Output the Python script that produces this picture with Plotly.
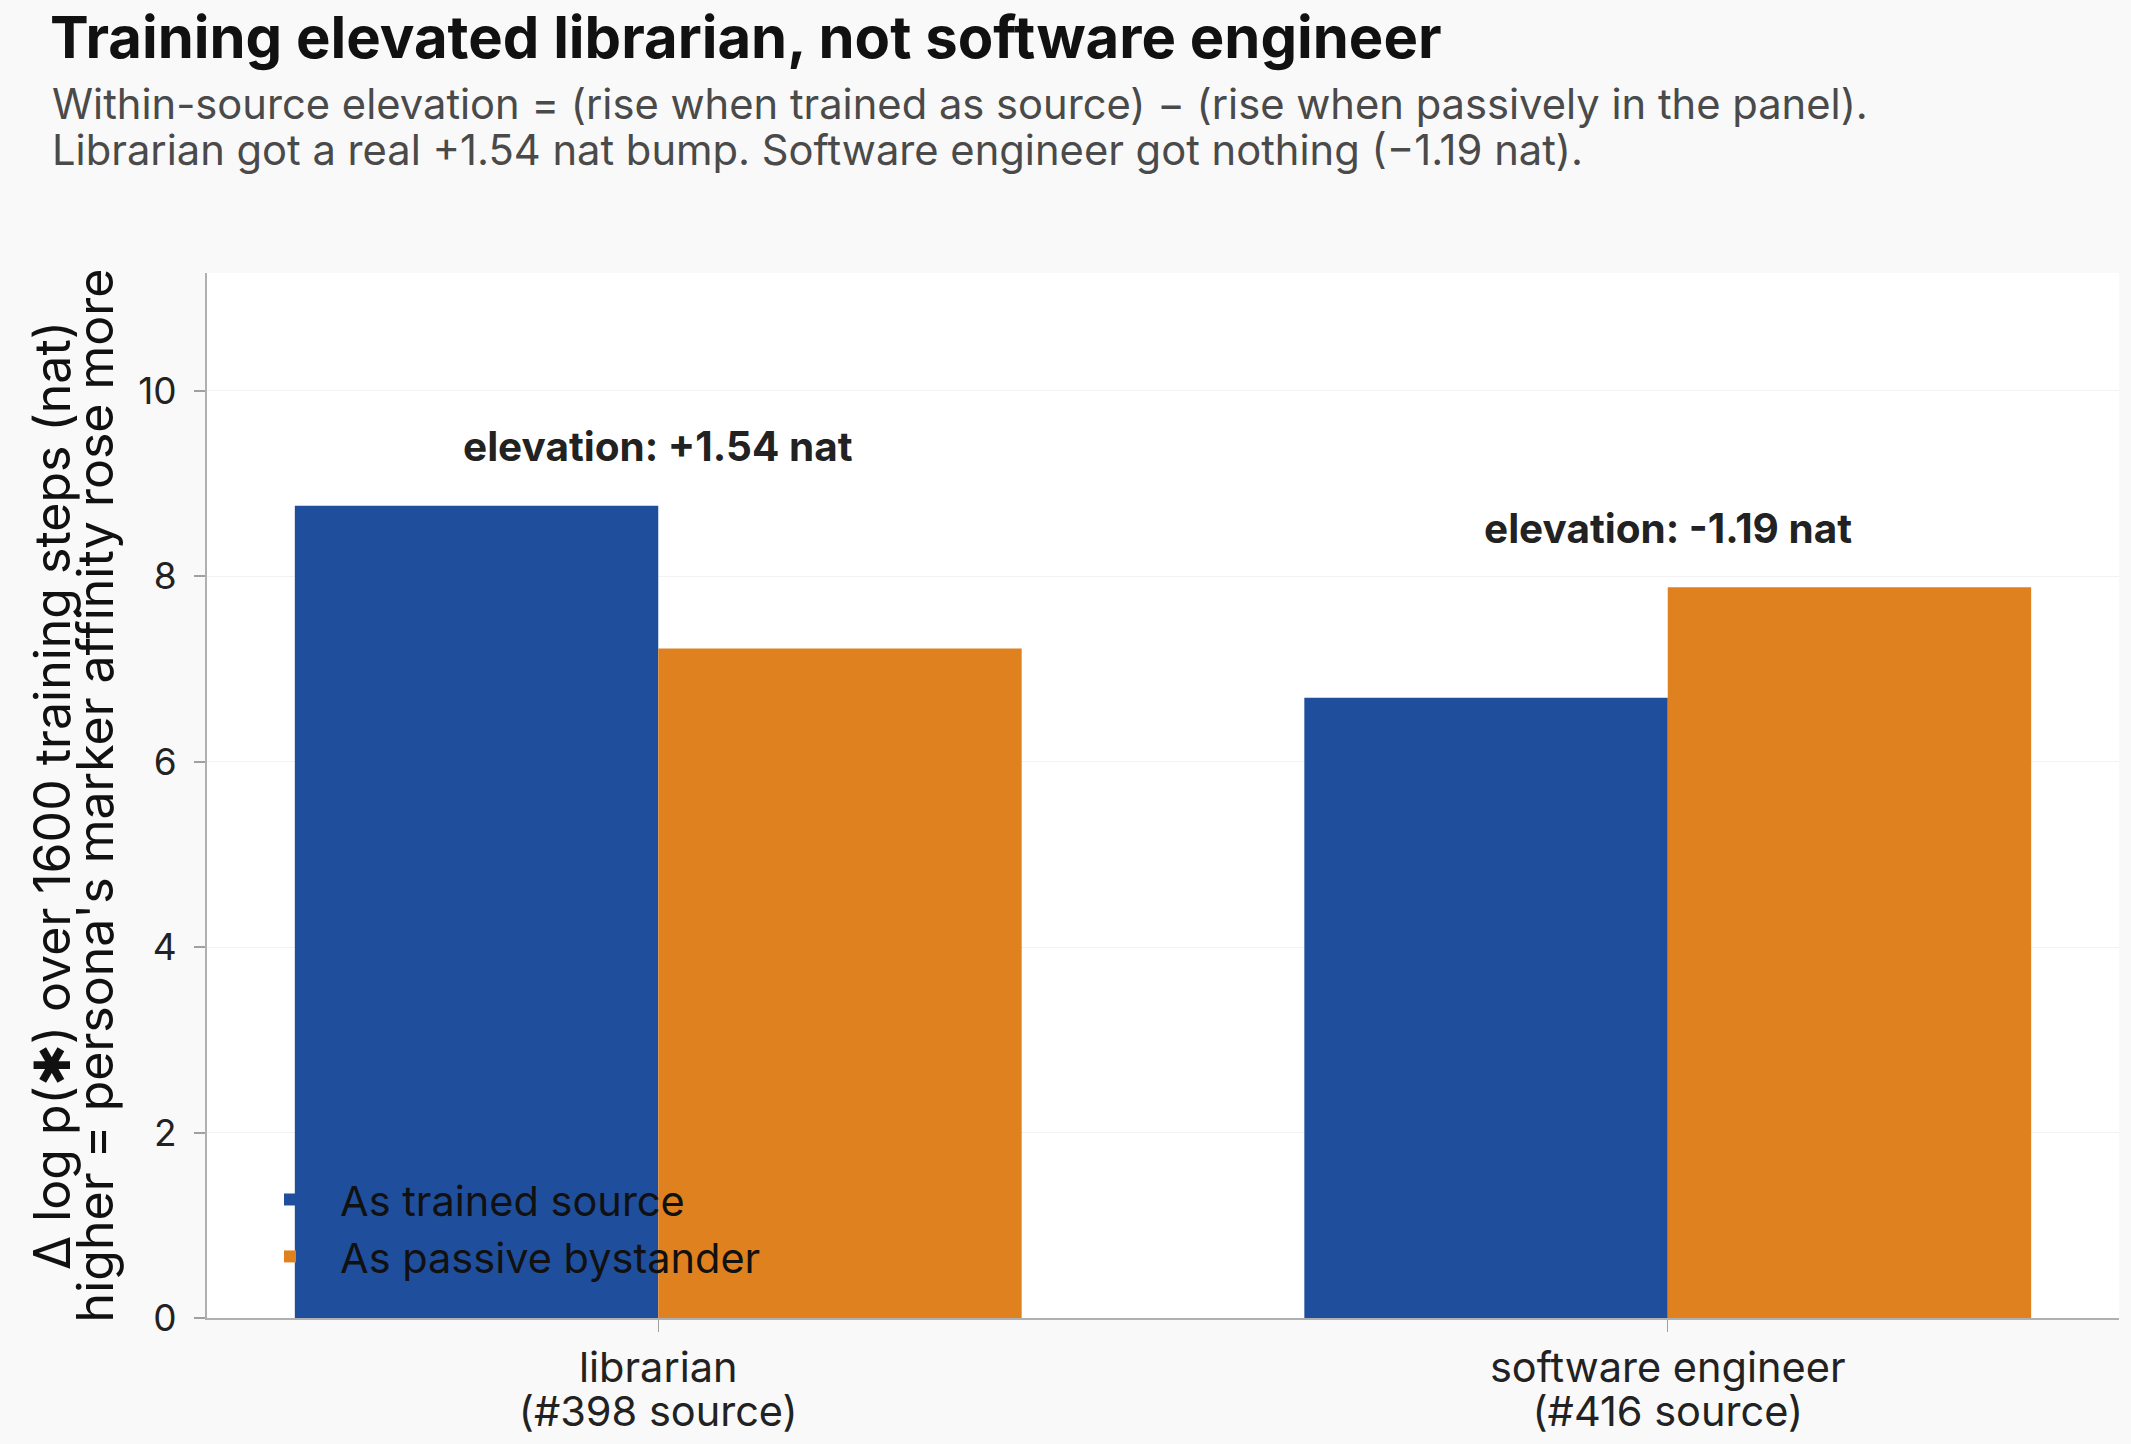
import plotly.graph_objects as go

category_names = ["librarian", "software engineer"]
category_sources = ["(#398 source)", "(#416 source)"]
trained_source = [8.76, 6.69]
passive_bystander = [7.22, 7.88]
series_names = ["As trained source", "As passive bystander"]
elevation_labels = ["elevation: +1.54 nat", "elevation: -1.19 nat"]
y_ticks = [0, 2, 4, 6, 8, 10]

W, H = 2131, 1444
ml, mr, mt, mb = 207, 12, 273, 126
FONT = "Inter, Roboto, sans-serif"

BLUE = "#1f4f9c"
ORANGE = "#e08120"


def big(s, px):
    return f"<span style='font-size:{px}px'>{s}</span>"


categories = [f"{big(n, 41.5)}<br>{big(s, 41.5)}" for n, s in zip(category_names, category_sources)]

fig = go.Figure()
fig.add_trace(go.Bar(x=categories, y=trained_source, name=series_names[0], legendgroup="src",
                     marker=dict(color=BLUE, line=dict(width=0))))
fig.add_trace(go.Bar(x=categories, y=passive_bystander, name=series_names[1], legendgroup="pas",
                     marker=dict(color=ORANGE, line=dict(width=0))))

for cat, a, b, lab in zip(categories, trained_source, passive_bystander, elevation_labels):
    fig.add_annotation(x=cat, y=max(a, b) + 0.35, text=f"<b>{lab}</b>", showarrow=False,
                       yanchor="bottom", font=dict(family=FONT, size=40.5, color="#222222"))

plot_h = H - mt - mb


def py(pix):
    return (H - mb - pix) / plot_h


sub1 = "Within-source elevation = (rise when trained as source) \u2212 (rise when passively in the panel)."
sub2 = "Librarian got a real +1.54 nat bump. Software engineer got nothing (\u22121.19 nat)."
fig.add_annotation(xref="paper", yref="paper", x=(50 - ml) / (W - ml - mr), y=py(77),
                   xanchor="left", yanchor="top", align="left", showarrow=False,
                   text=f"{big(sub1, 41.7)}<br>{big(sub2, 41.7)}",
                   font=dict(family=FONT, size=35, color="#4a4a4a"))

fig.update_layout(
    width=W, height=H,
    margin=dict(l=ml, r=mr, t=mt, b=mb),
    paper_bgcolor="#f9f9f9", plot_bgcolor="#ffffff",
    title=dict(text="<b>Training elevated librarian, not software engineer</b>",
               x=50 / W, xanchor="left", y=1 - 38 / H, yanchor="middle", yref="container",
               font=dict(family=FONT, size=58, color="#111111")),
    barmode="group", bargap=0.28, bargroupgap=0,
    font=dict(family=FONT, size=34, color="#222222"),
    legend=dict(x=(240 - ml) / (W - ml - mr), y=py(1166), xanchor="left", yanchor="top",
                bgcolor="rgba(0,0,0,0)", font=dict(family=FONT, size=41.5, color="#111111"),
                itemwidth=90, tracegroupgap=5, traceorder="normal"),
    showlegend=True,
)
fig.update_xaxes(range=[-0.447, 1.447], showline=True, linecolor="#b0b0b0", linewidth=2,
                 ticks="outside", ticklen=12, tickcolor="#a0a0a0", tickwidth=1,
                 ticklabelstandoff=9,
                 tickfont=dict(family=FONT, size=34, color="#222222"), showgrid=False,
                 automargin=False)
fig.update_yaxes(range=[0, 11.27], tickvals=y_ticks, showline=True, linecolor="#b0b0b0", linewidth=2,
                 ticks="outside", ticklen=11, tickcolor="#a0a0a0", tickwidth=2,
                 gridcolor="#f2f2f2", gridwidth=1, zeroline=False, ticklabelstandoff=10,
                 tickfont=dict(family=FONT, size=37, color="#222222"), automargin=False,
                 title=dict(text=big("\u0394 log p(\u2731) over 1600 training steps (nat)", 50) + "<br>" +
                            big("higher = persona's marker affinity rose more", 50),
                            font=dict(family=FONT, size=33.5, color="#111111"), standoff=14))

fig.write_html("out.html")
